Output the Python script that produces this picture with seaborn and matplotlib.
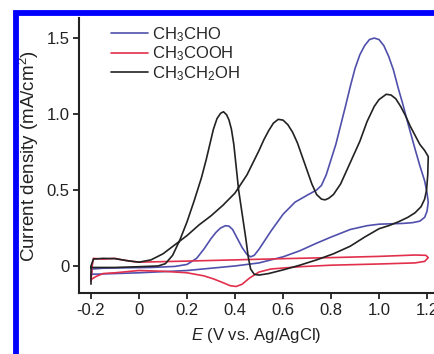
import seaborn as sns
import pandas as pd
import matplotlib.pyplot as plt
from matplotlib.patches import Rectangle

# cyclic voltammograms (forward scan then backward scan)
acetaldehyde_E = [-0.2, -0.195, -0.15, -0.05, 0.05, 0.15, 0.2, 0.24, 0.27, 0.3, 0.32, 0.34, 0.36, 0.375, 0.39,
                  0.41, 0.43, 0.45, 0.465, 0.48, 0.5, 0.55, 0.6, 0.65, 0.7, 0.74, 0.76, 0.78, 0.8, 0.82, 0.86,
                  0.88, 0.9, 0.92, 0.94, 0.96, 0.98, 1.0, 1.02, 1.04, 1.06, 1.08, 1.1, 1.12, 1.15, 1.17, 1.19,
                  1.2, 1.205,
                  1.2, 1.19, 1.17, 1.14, 1.1, 1.0, 0.95, 0.88, 0.8, 0.74, 0.67, 0.6, 0.5, 0.4, 0.3, 0.2, 0.0, -0.2]
acetaldehyde_j = [-0.07, -0.02, -0.015, -0.012, -0.01, -0.003, 0.01, 0.05, 0.11, 0.18, 0.22, 0.25, 0.265, 0.262, 0.24,
                  0.18, 0.12, 0.075, 0.06, 0.07, 0.11, 0.23, 0.34, 0.42, 0.465, 0.5, 0.53, 0.6, 0.7, 0.8, 1.05,
                  1.18, 1.3, 1.39, 1.45, 1.49, 1.5, 1.49, 1.45, 1.38, 1.29, 1.17, 1.06, 0.94, 0.77, 0.66, 0.56,
                  0.48, 0.42,
                  0.36, 0.32, 0.295, 0.285, 0.28, 0.275, 0.265, 0.24, 0.19, 0.15, 0.1, 0.06, 0.02, 0.0, -0.015,
                  -0.03, -0.045, -0.055]

acetic_E = [-0.2, -0.195, -0.19, -0.15, -0.1, -0.07, -0.03, 0.0, 0.2, 0.4, 0.6, 0.8, 1.0, 1.15, 1.195, 1.205,
            1.19, 1.15, 1.0, 0.8, 0.67, 0.55, 0.5, 0.46, 0.43, 0.405, 0.38, 0.35, 0.31, 0.27, 0.2, 0.1, 0.0,
            -0.1, -0.15, -0.18, -0.2]
acetic_j = [-0.1, 0.0, 0.05, 0.045, 0.05, 0.04, 0.03, 0.025, 0.032, 0.04, 0.048, 0.055, 0.063, 0.072, 0.07, 0.055,
            0.03, 0.02, 0.013, 0.005, -0.005, -0.02, -0.04, -0.08, -0.12, -0.135, -0.13, -0.11, -0.085, -0.065,
            -0.045, -0.035, -0.03, -0.045, -0.05, -0.07, -0.09]

ethanol_E = [-0.2, -0.2, -0.19, -0.15, -0.1, -0.05, 0.0, 0.05, 0.1, 0.15, 0.2, 0.25, 0.3, 0.35, 0.4, 0.45, 0.5,
             0.52, 0.54, 0.56, 0.58, 0.6, 0.62, 0.64, 0.66, 0.68, 0.7, 0.72, 0.74, 0.76, 0.775, 0.79, 0.81, 0.84,
             0.88, 0.92, 0.95, 0.98, 1.0, 1.03, 1.05, 1.07, 1.09, 1.11, 1.13, 1.15, 1.17, 1.19, 1.205,
             1.203, 1.198, 1.19, 1.175, 1.15, 1.12, 1.08, 1.04, 1.0, 0.94, 0.88, 0.81, 0.74, 0.67, 0.6, 0.54,
             0.5, 0.48, 0.465, 0.455, 0.445, 0.43, 0.415, 0.405, 0.395, 0.385, 0.375, 0.365, 0.352, 0.34, 0.325,
             0.31, 0.295, 0.28, 0.26, 0.23, 0.2, 0.17, 0.14, 0.11, 0.08, 0.0, -0.1, -0.2]
ethanol_j = [-0.12, 0.0, 0.045, 0.05, 0.048, 0.035, 0.025, 0.04, 0.08, 0.14, 0.2, 0.27, 0.33, 0.4, 0.48, 0.6, 0.76,
             0.83, 0.89, 0.94, 0.965, 0.96, 0.93, 0.88, 0.81, 0.72, 0.63, 0.54, 0.47, 0.44, 0.435, 0.445, 0.47, 0.54,
             0.68, 0.82, 0.95, 1.05, 1.095, 1.13, 1.125, 1.1, 1.05, 0.99, 0.92, 0.86, 0.8, 0.76, 0.72,
             0.6, 0.5, 0.44, 0.39, 0.35, 0.32, 0.29, 0.265, 0.245, 0.19, 0.13, 0.08, 0.04, 0.005, -0.026, -0.05,
             -0.06, -0.055, -0.02, 0.06, 0.18, 0.34, 0.5, 0.65, 0.8, 0.9, 0.96, 0.995, 1.015, 1.005, 0.97,
             0.9, 0.8, 0.7, 0.58, 0.43, 0.29, 0.17, 0.07, 0.015, 0.0, -0.005, -0.01, -0.01]

labels = ["CH$_3$CHO", "CH$_3$COOH", "CH$_3$CH$_2$OH"]
colors = ["#5050ac", "#e2304c", "#222222"]

xticks = [-0.2, 0, 0.2, 0.4, 0.6, 0.8, 1.0, 1.2]
xticklabels = ["-0.2", "0", "0.2", "0.4", "0.6", "0.8", "1.0", "1.2"]
yticks = [0, 0.5, 1.0, 1.5]
yticklabels = ["0", "0.5", "1.0", "1.5"]

frames = []
for lab, E, j in zip(labels, [acetaldehyde_E, acetic_E, ethanol_E], [acetaldehyde_j, acetic_j, ethanol_j]):
    frames.append(pd.DataFrame({"E": E, "j": j, "species": lab}))
df = pd.concat(frames, ignore_index=True)

sns.set_theme(style="ticks")
plt.rcParams["font.family"] = ["Liberation Sans", "DejaVu Sans"]
plt.rcParams["mathtext.fontset"] = "custom"
plt.rcParams["mathtext.rm"] = "Liberation Sans"
plt.rcParams["mathtext.it"] = "Liberation Sans:italic"

fig = plt.figure(figsize=(4.34, 3.54), dpi=100)
ax = fig.add_axes([79 / 434, 61 / 354, 355 / 434, 275 / 354])

sns.lineplot(data=df, x="E", y="j", hue="species", hue_order=labels, palette=colors,
             sort=False, estimator=None, units="species", linewidth=1.2, ax=ax)
for line in ax.lines:
    line.set_solid_joinstyle("round")

ax.set_xlim(-0.25, 1.229)
ax.set_ylim(-0.178, 1.632)
ax.set_xticks(xticks)
ax.set_xticklabels(xticklabels)
ax.set_yticks(yticks)
ax.set_yticklabels(yticklabels)
ax.tick_params(labelsize=12, length=4, width=1.3, color="#222222", labelcolor="#222222", pad=3)
for s in ["top", "right"]:
    ax.spines[s].set_visible(False)
for s in ["left", "bottom"]:
    ax.spines[s].set_linewidth(1.5)
    ax.spines[s].set_color("#222222")

ax.set_xlabel("$E$ (V vs. Ag/AgCl)", fontsize=12, color="#222222", labelpad=6)
ax.set_ylabel("Current density (mA/cm$^2$)", fontsize=13.5, color="#222222", labelpad=4)

handles, labs = ax.get_legend_handles_labels()
ax.legend(handles, labs, loc="upper left", bbox_to_anchor=(0.09, 0.975), frameon=False,
          fontsize=12, handlelength=2.2, handletextpad=0.25, labelspacing=0.05,
          borderaxespad=0, borderpad=0)

fig.add_artist(Rectangle((15.5 / 434, -0.5), 2, 0.5 + 1 - 13 / 354, fill=False,
                         edgecolor="#0000ff", linewidth=4.2, transform=fig.transFigure))

fig.savefig("out.png", dpi=100)
